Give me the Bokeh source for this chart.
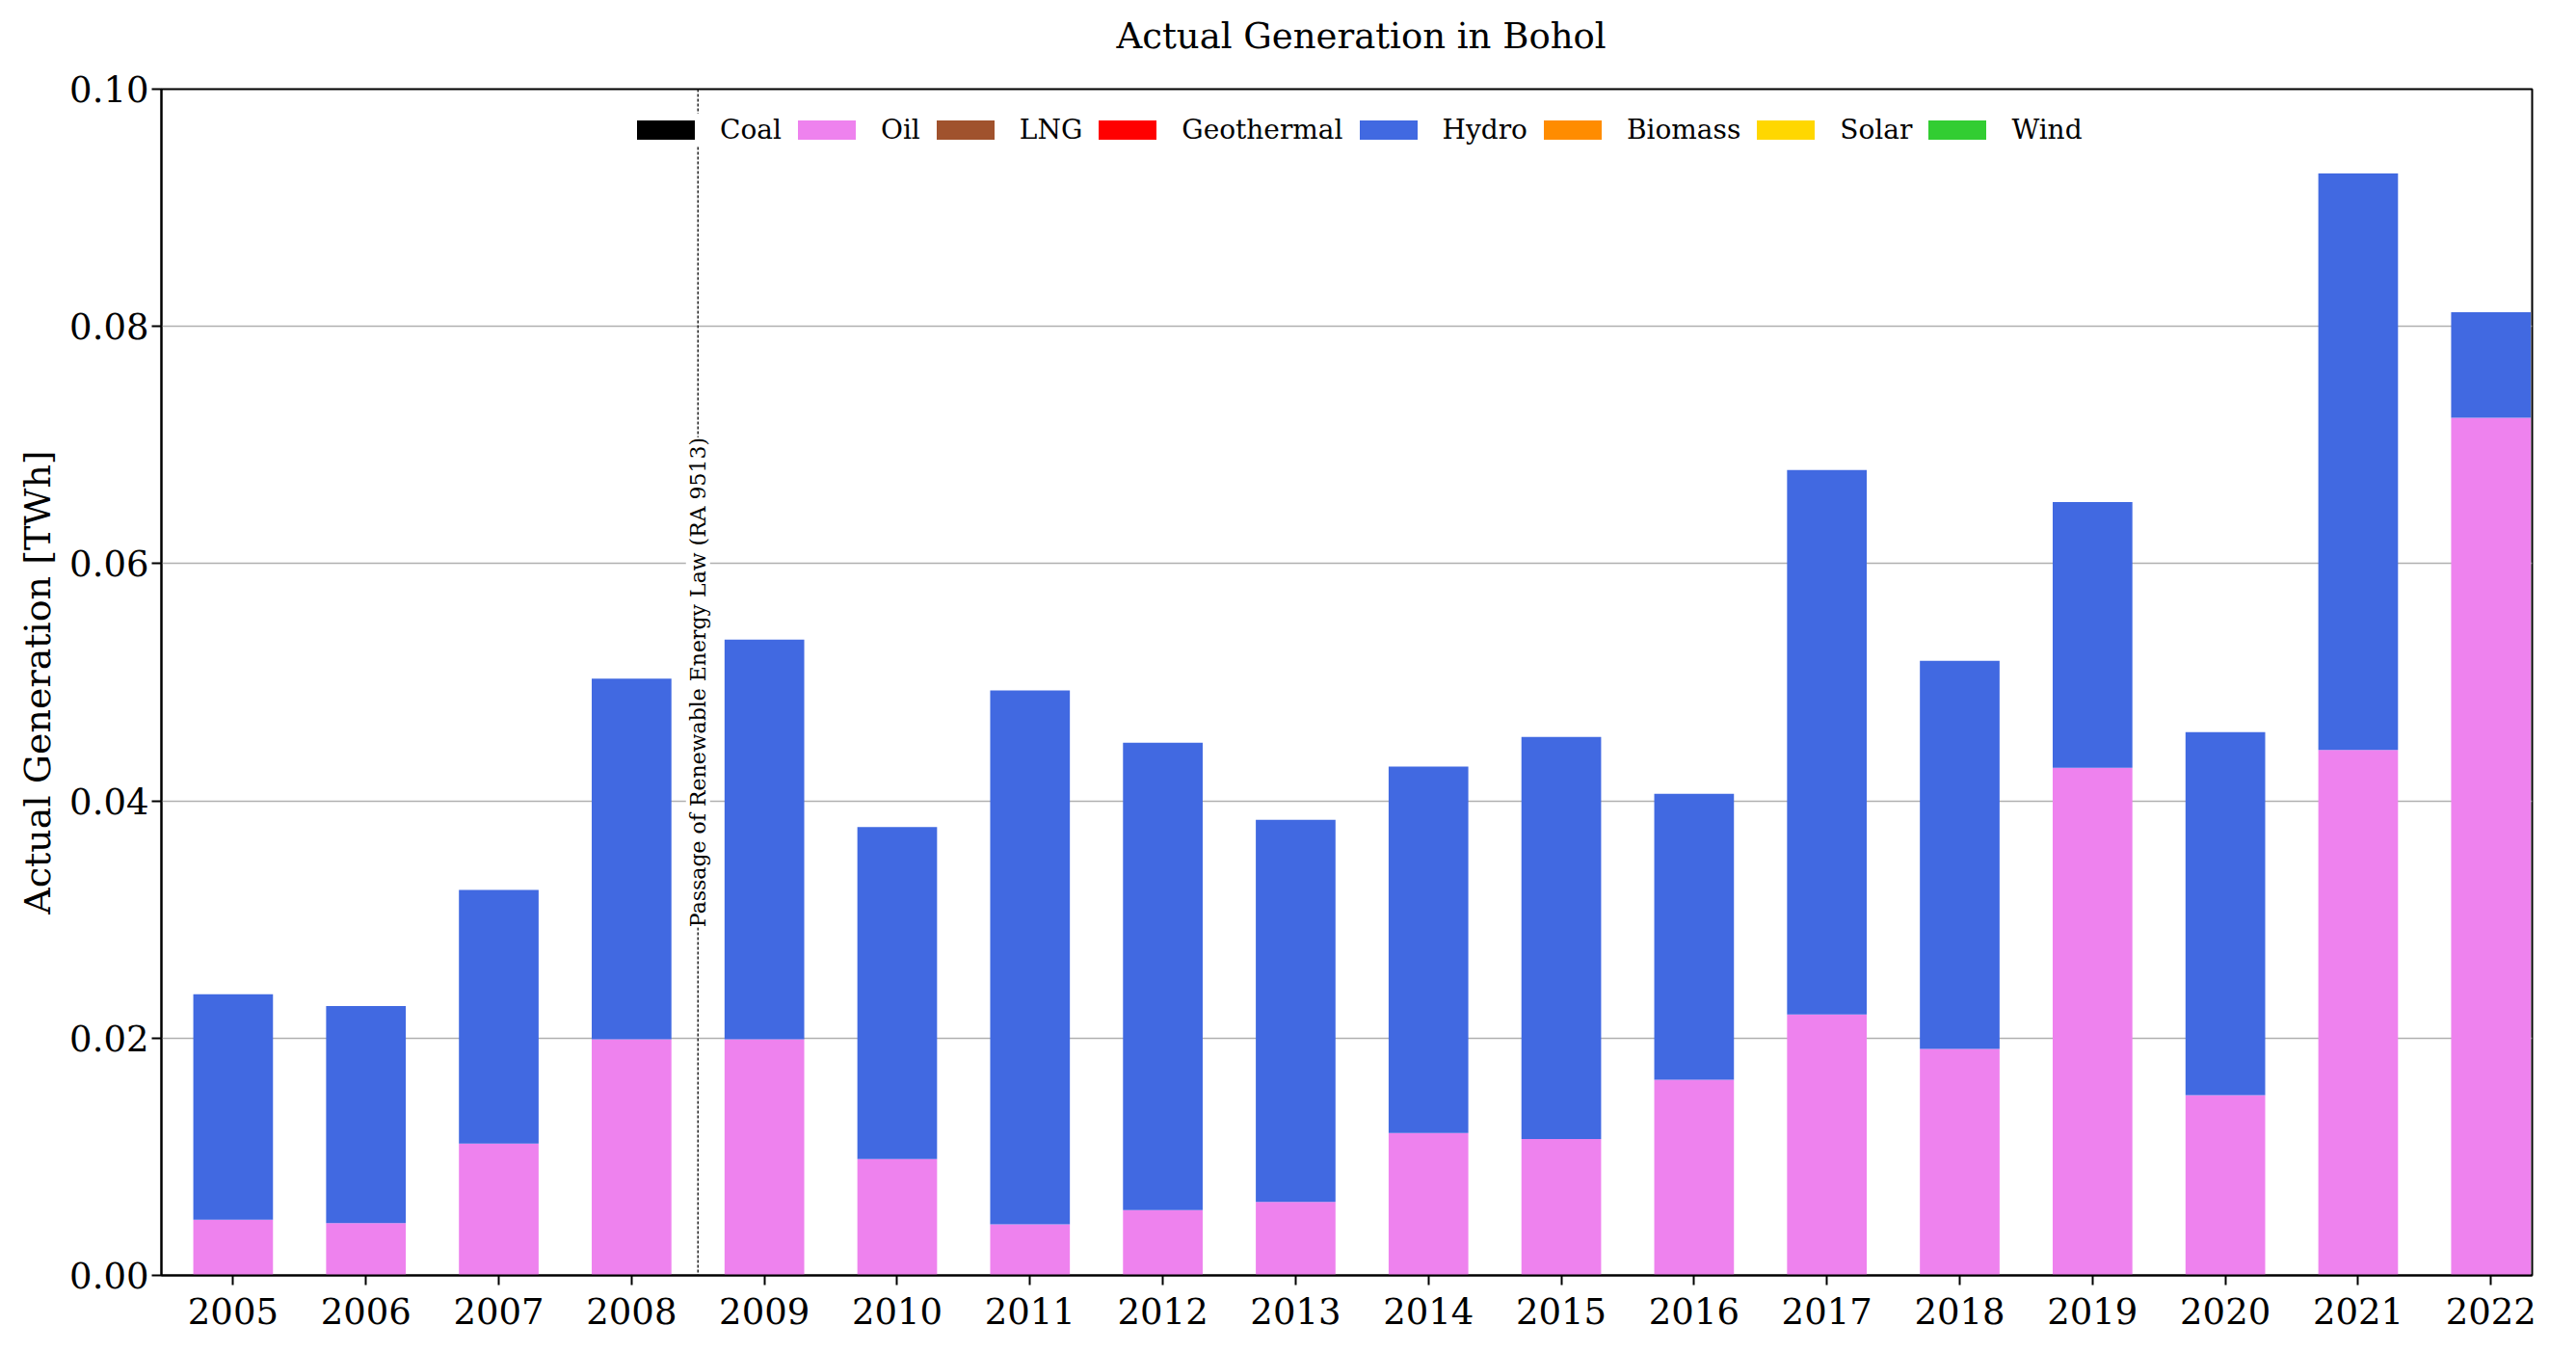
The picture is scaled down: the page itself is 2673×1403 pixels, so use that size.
import math
from bokeh.plotting import figure
from bokeh.models import Range1d, FixedTicker, PrintfTickFormatter, Span, Label, Legend, Title
from bokeh.embed import file_html
from bokeh.resources import INLINE

years = [2005, 2006, 2007, 2008, 2009, 2010, 2011, 2012, 2013, 2014, 2015,
         2016, 2017, 2018, 2019, 2020, 2021, 2022]
coal = [0.0] * 18
oil = [0.0047, 0.0044, 0.0111, 0.0199, 0.0199, 0.0098, 0.0043, 0.0055, 0.0062,
       0.0120, 0.0115, 0.0165, 0.0220, 0.0191, 0.0428, 0.0152, 0.0443, 0.0723]
total = [0.0237, 0.0227, 0.0325, 0.0503, 0.0536, 0.0378, 0.0493, 0.0449, 0.0384,
         0.0429, 0.0454, 0.0406, 0.0679, 0.0518, 0.0652, 0.0458, 0.0929, 0.0812]
hydro = [round(t - o, 4) for t, o in zip(total, oil)]
lng = [0.0] * 18
geothermal = [0.0] * 18
biomass = [0.0] * 18
solar = [0.0] * 18
wind = [0.0] * 18

sources = ["Coal", "Oil", "LNG", "Geothermal", "Hydro", "Biomass", "Solar", "Wind"]
colors = ["#000000", "#EE82EE", "#A0522D", "#FF0000", "#4169E1", "#FF8C00", "#FFD700", "#32CD32"]
y_ticks = [0.0, 0.02, 0.04, 0.06, 0.08, 0.10]
re_law_year = 2008.5
re_law_text = "Passage of Renewable Energy Law (RA 9513)"
title_text = "Actual Generation in Bohol"

FONT = "DejaVu Serif"
W, H = 2657, 1387
BL, BR, BT, BB = 167, 30, 92, 64

data = {"year": years, "Coal": coal, "Oil": oil, "LNG": lng, "Geothermal": geothermal,
        "Hydro": hydro, "Biomass": biomass, "Solar": solar, "Wind": wind}

p = figure(width=W, height=H, output_backend="svg", toolbar_location=None,
           x_range=Range1d(2004.46, 2022.31), y_range=Range1d(0, 0.10),
           title=title_text,
           min_border_left=BL, min_border_right=BR, min_border_top=BT, min_border_bottom=BB)

renderers = p.vbar_stack(sources, x="year", width=0.6, color=colors, source=data, line_width=0)

p.title.align = "left"
p.title.offset = 991
p.title.vertical_align = "top"
p.title.text_font = FONT
p.title.text_font_size = "37px"
p.title.text_font_style = "normal"
p.title.text_color = "black"
p.title.standoff = 0

# spacer between the title and the plot frame
p.add_layout(Title(text=" ", text_font_size="10px", standoff=19), "above")

p.xaxis.ticker = FixedTicker(ticks=years)
p.yaxis.ticker = FixedTicker(ticks=y_ticks)
p.yaxis.formatter = PrintfTickFormatter(format="%.2f")
p.yaxis.axis_label = "Actual Generation [TWh]"
p.yaxis.axis_label_text_font = FONT
p.yaxis.axis_label_text_font_size = "38px"
p.yaxis.axis_label_text_font_style = "normal"
p.yaxis.axis_label_text_color = "black"
p.yaxis.axis_label_standoff = 8

for ax in (p.xaxis, p.yaxis):
    ax.major_label_text_font = FONT
    ax.major_label_text_font_size = "37px"
    ax.major_label_text_color = "black"
    ax.major_tick_out = 10
    ax.major_tick_in = 0
    ax.major_tick_line_width = 2
    ax.major_tick_line_color = "black"
    ax.minor_tick_line_color = None
    ax.axis_line_width = 2
    ax.axis_line_color = "black"
p.xaxis.major_label_standoff = 13
p.yaxis.major_label_standoff = 3

p.xgrid.grid_line_color = None
p.ygrid.grid_line_color = "#b0b0b0"
p.ygrid.grid_line_width = 1.5
p.outline_line_color = "black"
p.outline_line_width = 2
p.outline_line_alpha = 1

vline = Span(location=re_law_year, dimension="height", line_color="#222222",
             line_width=1.5, line_dash="3 2")
p.add_layout(vline)

lbl = Label(x=re_law_year, y=0.05, text=re_law_text, angle=math.pi / 2,
            text_align="center", text_baseline="middle", text_font=FONT,
            text_color="black",
            text_font_size="22px", background_fill_color="white", background_fill_alpha=1)
p.add_layout(lbl)

legend = Legend(items=[(s, [r]) for s, r in zip(sources, renderers)],
                location=(486, 1172), orientation="horizontal")
legend.label_text_font = FONT
legend.label_text_font_size = "28px"
legend.label_text_color = "black"
legend.glyph_width = 75
legend.glyph_height = 25
legend.label_standoff = 19
legend.spacing = 9
legend.border_line_color = None
legend.background_fill_color = "white"
legend.background_fill_alpha = 1
legend.margin = 0
legend.padding = 8
p.add_layout(legend, "center")

open("out.html", "w").write(file_html(p, INLINE))
